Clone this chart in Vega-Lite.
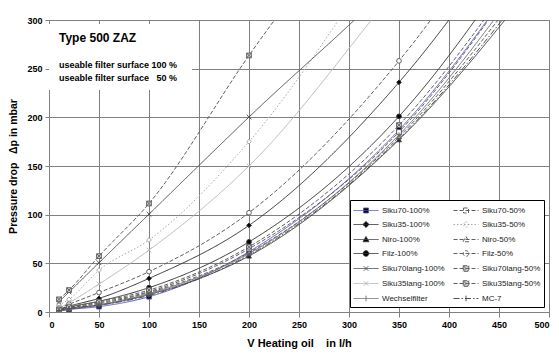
{
 "$schema": "https://vega.github.io/schema/vega-lite/v6.json",
 "width": 500, "height": 292,
 "autosize": {"type": "none"},
 "padding": {"left": 49, "top": 20, "right": 10, "bottom": 43},
 "background": "white",
 "config": {
  "font": "Liberation Sans",
  "view": {"stroke": "#808080", "strokeWidth": 1},
  "axis": {"gridColor": "#808080", "gridOpacity": 1, "gridWidth": 1, "domain": false, "tickColor": "#808080",
   "labelFont": "Liberation Sans", "labelFontWeight": "bold", "labelFontSize": 9, "labelColor": "#000",
   "titleFont": "Liberation Sans", "titleFontWeight": "bold", "titleColor": "#000"},
  "legend": {"orient": "none", "legendX": 301, "legendY": 180, "direction": "horizontal", "columns": 2, "fillColor": "white", "strokeColor": "#000000", "padding": 3, "rowPadding": 2, "columnPadding": 6, "labelFontSize": 8, "labelFont": "Liberation Sans", "labelColor": "#222222", "labelOffset": 14, "symbolSize": 196, "symbolStrokeWidth": 1}
 },
 "data": {"values": [
  {"series":"Siku70-100%","x":10,"y":1},{"series":"Siku70-100%","x":20,"y":2.5},{"series":"Siku70-100%","x":50,"y":5.5},{"series":"Siku70-100%","x":100,"y":15.7},{"series":"Siku70-100%","x":200,"y":62},{"series":"Siku70-100%","x":350,"y":187},{"series":"Siku70-100%","x":500,"y":390},
  {"series":"Siku70-50%","x":10,"y":2},{"series":"Siku70-50%","x":20,"y":4.5},{"series":"Siku70-50%","x":50,"y":9.5},{"series":"Siku70-50%","x":100,"y":21},{"series":"Siku70-50%","x":200,"y":65},{"series":"Siku70-50%","x":350,"y":185},{"series":"Siku70-50%","x":500,"y":390},
  {"series":"Siku35-100%","x":10,"y":3},{"series":"Siku35-100%","x":20,"y":6},{"series":"Siku35-100%","x":50,"y":14},{"series":"Siku35-100%","x":100,"y":34.5},{"series":"Siku35-100%","x":200,"y":89},{"series":"Siku35-100%","x":350,"y":236},{"series":"Siku35-100%","x":500,"y":446},
  {"series":"Siku35-50%","x":10,"y":7},{"series":"Siku35-50%","x":20,"y":13},{"series":"Siku35-50%","x":50,"y":43},{"series":"Siku35-50%","x":100,"y":74},{"series":"Siku35-50%","x":200,"y":175},{"series":"Siku35-50%","x":350,"y":390},{"series":"Siku35-50%","x":500,"y":600},
  {"series":"Niro-100%","x":10,"y":1.5},{"series":"Niro-100%","x":20,"y":3},{"series":"Niro-100%","x":50,"y":7},{"series":"Niro-100%","x":100,"y":18},{"series":"Niro-100%","x":200,"y":57.5},{"series":"Niro-100%","x":350,"y":177},{"series":"Niro-100%","x":500,"y":357},
  {"series":"Niro-50%","x":10,"y":2},{"series":"Niro-50%","x":20,"y":4},{"series":"Niro-50%","x":50,"y":8.5},{"series":"Niro-50%","x":100,"y":20},{"series":"Niro-50%","x":200,"y":61},{"series":"Niro-50%","x":350,"y":180},{"series":"Niro-50%","x":500,"y":370},
  {"series":"Filz-100%","x":10,"y":2.5},{"series":"Filz-100%","x":20,"y":5},{"series":"Filz-100%","x":50,"y":11},{"series":"Filz-100%","x":100,"y":25},{"series":"Filz-100%","x":200,"y":72},{"series":"Filz-100%","x":350,"y":201},{"series":"Filz-100%","x":500,"y":411},
  {"series":"Filz-50%","x":10,"y":4},{"series":"Filz-50%","x":20,"y":8},{"series":"Filz-50%","x":50,"y":20},{"series":"Filz-50%","x":100,"y":41.4},{"series":"Filz-50%","x":200,"y":102},{"series":"Filz-50%","x":350,"y":258},{"series":"Filz-50%","x":500,"y":480},
  {"series":"Siku70lang-100%","x":10,"y":10.6},{"series":"Siku70lang-100%","x":20,"y":20.5},{"series":"Siku70lang-100%","x":50,"y":50.6},{"series":"Siku70lang-100%","x":100,"y":100.5},{"series":"Siku70lang-100%","x":200,"y":200.3},{"series":"Siku70lang-100%","x":350,"y":345},{"series":"Siku70lang-100%","x":500,"y":520},
  {"series":"Siku70lang-50%","x":10,"y":13},{"series":"Siku70lang-50%","x":20,"y":22.5},{"series":"Siku70lang-50%","x":50,"y":57.4},{"series":"Siku70lang-50%","x":100,"y":111.5},{"series":"Siku70lang-50%","x":200,"y":263.6},{"series":"Siku70lang-50%","x":350,"y":470},{"series":"Siku70lang-50%","x":500,"y":700},
  {"series":"Siku35lang-100%","x":10,"y":4},{"series":"Siku35lang-100%","x":20,"y":9.5},{"series":"Siku35lang-100%","x":50,"y":28.7},{"series":"Siku35lang-100%","x":100,"y":63.6},{"series":"Siku35lang-100%","x":200,"y":150},{"series":"Siku35lang-100%","x":350,"y":335},{"series":"Siku35lang-100%","x":500,"y":520},
  {"series":"Siku35lang-50%","x":10,"y":2.5},{"series":"Siku35lang-50%","x":20,"y":5},{"series":"Siku35lang-50%","x":50,"y":10.6},{"series":"Siku35lang-50%","x":100,"y":22.5},{"series":"Siku35lang-50%","x":200,"y":67},{"series":"Siku35lang-50%","x":350,"y":192},{"series":"Siku35lang-50%","x":500,"y":395},
  {"series":"Wechselfilter","x":10,"y":1.5},{"series":"Wechselfilter","x":20,"y":3.5},{"series":"Wechselfilter","x":50,"y":7.5},{"series":"Wechselfilter","x":100,"y":19},{"series":"Wechselfilter","x":200,"y":60},{"series":"Wechselfilter","x":350,"y":182},{"series":"Wechselfilter","x":500,"y":378},
  {"series":"MC-7","x":10,"y":1.5},{"series":"MC-7","x":20,"y":3.5},{"series":"MC-7","x":50,"y":7},{"series":"MC-7","x":100,"y":17},{"series":"MC-7","x":200,"y":58.5},{"series":"MC-7","x":350,"y":178},{"series":"MC-7","x":500,"y":362}
 ]},
 "layer": [
  {
   "mark": {"type": "line", "interpolate": "monotone", "clip": true, "strokeWidth": 1},
   "encoding": {
    "x": {"field": "x", "type": "quantitative", "scale": {"domain": [0, 500], "nice": false, "zero": false},
     "axis": {"values": [0,50,100,150,200,250,300,350,400,450,500], "title": "V\u00a0Heating oil\u00a0\u00a0\u00a0\u00a0in l/h", "titleFontSize": 11, "tickSize": 5, "labelPadding": 3, "titlePadding": 8}},
    "y": {"field": "y", "type": "quantitative", "scale": {"domain": [0, 300], "nice": false},
     "axis": {"values": [0,50,100,150,200,250,300], "title": "Pressure drop\u00a0\u00a0\u00a0Δp in mbar", "titleFontSize": 10.5, "tickSize": 4, "labelPadding": 3, "titlePadding": 8}},
    "stroke": {"field": "series", "type": "nominal", "legend": null,
     "scale": {"domain": ["Siku70-100%","Siku70-50%","Siku35-100%","Siku35-50%","Niro-100%","Niro-50%","Filz-100%","Filz-50%","Siku70lang-100%","Siku70lang-50%","Siku35lang-100%","Siku35lang-50%","Wechselfilter","MC-7"],
      "range": ["#5a5ac8","#606060","#303030","#a8a8a8","#404040","#606060","#303030","#606060","#505050","#606060","#b8b8b8","#606060","#707070","#505050"]}},
    "strokeDash": {"field": "series", "type": "nominal", "legend": null,
     "scale": {"domain": ["Siku70-100%","Siku70-50%","Siku35-100%","Siku35-50%","Niro-100%","Niro-50%","Filz-100%","Filz-50%","Siku70lang-100%","Siku70lang-50%","Siku35lang-100%","Siku35lang-50%","Wechselfilter","MC-7"],
      "range": [[1,0],[4,2],[1,0],[1.5,2],[1,0],[4,2],[1,0],[4,2],[1,0],[4,2],[1,0],[4,2],[1,0],[6,2,1.5,2]]}}
   }
  },
  {
   "mark": {"type": "point", "filled": true, "clip": true, "size": 22, "strokeWidth": 1, "opacity": 1},
   "encoding": {
    "x": {"field": "x", "type": "quantitative"},
    "y": {"field": "y", "type": "quantitative"},
    "shape": {"field": "series", "type": "nominal", "legend": null,
     "scale": {"domain": ["Siku70-100%","Siku70-50%","Siku35-100%","Siku35-50%","Niro-100%","Niro-50%","Filz-100%","Filz-50%","Siku70lang-100%","Siku70lang-50%","Siku35lang-100%","Siku35lang-50%","Wechselfilter","MC-7"],
      "range": ["square","square","diamond","diamond","triangle-up","triangle-up","circle","circle","M-1,-1L1,1M-1,1L1,-1","M-1,-1H1V1H-1ZM-1,-1L1,1M-1,1L1,-1","M-1,-1L1,1M-1,1L1,-1","M-1,-1H1V1H-1ZM-1,-1L1,1M-1,1L1,-1","M0,-1V1M-1,0H1","M0,-1V1M-1,0H1"]}},
    "fill": {"field": "series", "type": "nominal", "legend": null,
     "scale": {"domain": ["Siku70-100%","Siku70-50%","Siku35-100%","Siku35-50%","Niro-100%","Niro-50%","Filz-100%","Filz-50%","Siku70lang-100%","Siku70lang-50%","Siku35lang-100%","Siku35lang-50%","Wechselfilter","MC-7"],
      "range": ["#000000","#ffffff","#000000","#ffffff","#000000","#ffffff","#000000","#ffffff","#505050","#d8d8d8","#b8b8b8","#d8d8d8","#707070","#505050"]}},
    "stroke": {"field": "series", "type": "nominal", "legend": null,
     "scale": {"domain": ["Siku70-100%","Siku70-50%","Siku35-100%","Siku35-50%","Niro-100%","Niro-50%","Filz-100%","Filz-50%","Siku70lang-100%","Siku70lang-50%","Siku35lang-100%","Siku35lang-50%","Wechselfilter","MC-7"],
      "range": ["#5a5ac8","#606060","#303030","#a8a8a8","#404040","#606060","#303030","#606060","#505050","#606060","#b8b8b8","#606060","#707070","#505050"]}}
   }
  },
  {
   "transform": [{"filter": "datum.y > 100000"}],
   "mark": {"type": "point", "filled": true, "size": 196, "strokeWidth": 1, "opacity": 1},
   "encoding": {
    "shape": {"field": "series", "type": "nominal", "legend": {"title": null},
     "scale": {"domain": ["Siku70-100%","Siku70-50%","Siku35-100%","Siku35-50%","Niro-100%","Niro-50%","Filz-100%","Filz-50%","Siku70lang-100%","Siku70lang-50%","Siku35lang-100%","Siku35lang-50%","Wechselfilter","MC-7"],
      "range": ["M-1,0H2.571M0.429,-0.357H1.143V0.357H0.429Z","M-1,0H2.571M0.429,-0.357H1.143V0.357H0.429Z","M-1,0H2.571M0.786,-0.43L1.216,0L0.786,0.43L0.356,0Z","M-1,0H2.571M0.786,-0.43L1.216,0L0.786,0.43L0.356,0Z","M-1,0H2.571M0.786,-0.43L1.216,0.32H0.356Z","M-1,0H2.571M0.786,-0.43L1.216,0.32H0.356Z","M-1,0H2.571M1.186,0A0.4,0.4,0,1,1,0.386,0A0.4,0.4,0,1,1,1.186,0Z","M-1,0H2.571M1.186,0A0.4,0.4,0,1,1,0.386,0A0.4,0.4,0,1,1,1.186,0Z","M-1,0H2.571M0.456,-0.33L1.116,0.33M0.456,0.33L1.116,-0.33","M-1,0H2.571M0.386,-0.4H1.186V0.4H0.386ZM0.386,-0.4L1.186,0.4M0.386,0.4L1.186,-0.4","M-1,0H2.571M0.456,-0.33L1.116,0.33M0.456,0.33L1.116,-0.33","M-1,0H2.571M0.386,-0.4H1.186V0.4H0.386ZM0.386,-0.4L1.186,0.4M0.386,0.4L1.186,-0.4","M-1,0H2.571M0.786,-0.4V0.4","M-1,0H2.571M0.786,-0.4V0.4"]}},
    "fill": {"field": "series", "type": "nominal", "legend": {"title": null},
     "scale": {"domain": ["Siku70-100%","Siku70-50%","Siku35-100%","Siku35-50%","Niro-100%","Niro-50%","Filz-100%","Filz-50%","Siku70lang-100%","Siku70lang-50%","Siku35lang-100%","Siku35lang-50%","Wechselfilter","MC-7"],
      "range": ["#000000","#ffffff","#000000","#ffffff","#000000","#ffffff","#000000","#ffffff","#505050","#d8d8d8","#b8b8b8","#d8d8d8","#707070","#505050"]}},
    "stroke": {"field": "series", "type": "nominal", "legend": {"title": null},
     "scale": {"domain": ["Siku70-100%","Siku70-50%","Siku35-100%","Siku35-50%","Niro-100%","Niro-50%","Filz-100%","Filz-50%","Siku70lang-100%","Siku70lang-50%","Siku35lang-100%","Siku35lang-50%","Wechselfilter","MC-7"],
      "range": ["#5a5ac8","#606060","#303030","#a8a8a8","#404040","#606060","#303030","#606060","#505050","#606060","#b8b8b8","#606060","#707070","#505050"]}},
    "strokeDash": {"field": "series", "type": "nominal", "legend": {"title": null},
     "scale": {"domain": ["Siku70-100%","Siku70-50%","Siku35-100%","Siku35-50%","Niro-100%","Niro-50%","Filz-100%","Filz-50%","Siku70lang-100%","Siku70lang-50%","Siku35lang-100%","Siku35lang-50%","Wechselfilter","MC-7"],
      "range": [[1,0],[4,2],[1,0],[1.5,2],[1,0],[4,2],[1,0],[4,2],[1,0],[4,2],[1,0],[4,2],[1,0],[6,2,1.5,2]]}}
   }
  },
  {
   "data": {"values": [{}]},
   "mark": {"type": "rect", "fill": "white"},
   "encoding": {
    "x": {"datum": 0, "type": "quantitative"}, "x2": {"datum": 143},
    "y": {"datum": 228, "type": "quantitative"}, "y2": {"datum": 296}
   }
  },
  {
   "data": {"values": [{"label": "Type 500 ZAZ"}]},
   "mark": {"type": "text", "align": "left", "baseline": "middle", "fontSize": 12, "fontWeight": "bold", "font": "Liberation Sans", "color": "#000"},
   "encoding": {"x": {"datum": 10, "type": "quantitative"}, "y": {"datum": 281, "type": "quantitative"}, "text": {"field": "label"}}
  },
  {
   "data": {"values": [{"label": "useable filter surface 100 %"}]},
   "mark": {"type": "text", "align": "left", "baseline": "middle", "fontSize": 9, "fontWeight": "bold", "font": "Liberation Sans", "color": "#000"},
   "encoding": {"x": {"datum": 10, "type": "quantitative"}, "y": {"datum": 254.2, "type": "quantitative"}, "text": {"field": "label"}}
  },
  {
   "data": {"values": [{"label": "useable filter surface\u00a0\u00a0\u00a050 %"}]},
   "mark": {"type": "text", "align": "left", "baseline": "middle", "fontSize": 9, "fontWeight": "bold", "font": "Liberation Sans", "color": "#000"},
   "encoding": {"x": {"datum": 10, "type": "quantitative"}, "y": {"datum": 240.4, "type": "quantitative"}, "text": {"field": "label"}}
  }
 ],
 "resolve": {"scale": {"stroke": "independent", "strokeDash": "independent", "fill": "independent", "shape": "independent"}}
}
